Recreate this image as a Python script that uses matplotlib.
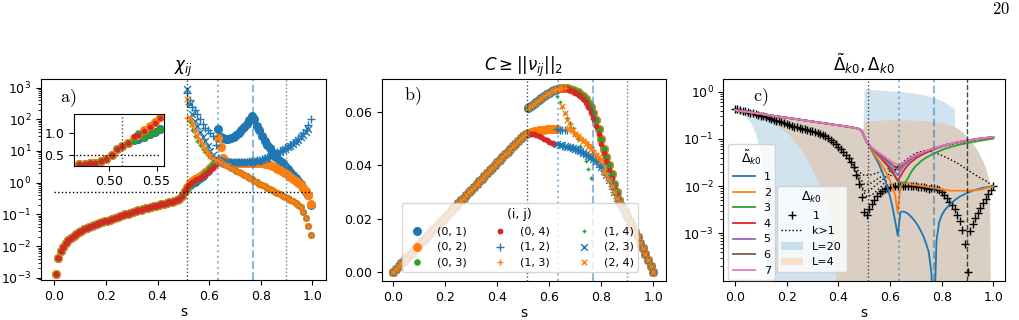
import numpy as np
import matplotlib
matplotlib.use("Agg")
import matplotlib.pyplot as plt
from matplotlib.lines import Line2D
from matplotlib.patches import Patch
from matplotlib.ticker import LogLocator, NullFormatter

# ---------------- datos panel a) chi_ij ----------------
s_a = np.linspace(0.005, 0.995, 100)
chi_low = [0.0013, 0.0041, 0.0068, 0.0095, 0.0122, 0.0152, 0.0182, 0.0213, 0.0243, 0.0274,
           0.0305, 0.0335, 0.0366, 0.0397, 0.0428, 0.046, 0.0493, 0.0527, 0.0562, 0.0598,
           0.064, 0.068, 0.073, 0.078, 0.083, 0.088, 0.094, 0.100, 0.106, 0.113,
           0.119, 0.126, 0.133, 0.140, 0.147, 0.155, 0.163, 0.171, 0.180, 0.189,
           0.198, 0.207, 0.217, 0.227, 0.238, 0.250, 0.264, 0.282, 0.310, 0.390]
# los pares con cruces/x no aparecen antes de la transicion
chi_vacio = [np.nan] * 50
# s = 0.505 ... 0.625
rise_01 = [0.55, 0.70, 0.83, 0.95, 1.06, 1.2, 1.4, 1.65, 1.95, 2.35, 2.85, 3.5, 4.4]
rise_02 = [0.56, 0.75, 0.95, 1.13, 1.30, 1.45, 1.62, 1.85, 2.1, 2.45, 2.9, 3.5, 4.3]
rise_03 = [0.55, 0.70, 0.84, 0.97, 1.10, 1.25, 1.45, 1.70, 2.0, 2.4, 2.9, 3.6, 4.5]
rise_04 = [0.56, 0.74, 0.92, 1.08, 1.2, 1.3, 1.42, 1.58, 1.8, 2.1, 2.5, 3.0, 3.8]
top_12 = [np.nan, 700, 400, 250, 190, 150, 100, 70, 55, 45, 38, 30, 15]
top_13 = [np.nan, 110, 90, 60, 40, 28, 20, 14.5, 11, 8.5, 7, 6, 5.2]
top_14 = [np.nan, 300, 80, 45, 30, 21, 15, 11.5, 9, 7.5, 6.3, 5.5, 4.9]
top_23 = [np.nan, 900, 300, 150, 90, 60, 40, 28, 20, 14, 10, 7.5, 6]
top_24 = [np.nan, 450, 110, 70, 45, 30, 21, 15, 11, 8.5, 7, 6, 5.3]
# s = 0.635 ... 0.995
tail_01 = [49, 27, 25, 24, 24, 25, 28, 32, 38, 46, 56, 72, 95, 130, 100, 60, 45, 30, 21, 15.5,
           12, 9.5, 7.6, 6.2, 5.0, 4.1, 3.3, 2.7, 2.2, 1.8, 1.45, 1.15, 0.9, 0.68, 0.5, 0.4, 0.2]
tail_02 = [26, 13, 6, 4.8, 4.4, 4.3, 4.3, 4.3, 4.3, 4.3, 4.3, 4.3, 4.3, 4.3, 4.3, 4.25, 4.2, 4.1, 4.0, 3.85,
           3.65, 3.4, 3.1, 2.8, 2.5, 2.2, 1.95, 1.7, 1.5, 1.3, 1.12, 0.98, 0.85, 0.7, 0.55, 0.42, 0.21]
tail_fall = [4.8, 4.4, 4.0, 3.6, 3.25, 2.95, 2.65, 2.4, 2.15, 1.95, 1.75, 1.58, 1.42, 1.28, 1.15, 1.04,
             0.94, 0.85, 0.77, 0.70, 0.63, 0.57, 0.52, 0.47, 0.43, 0.39, 0.35, 0.32, 0.29, 0.26,
             0.23, 0.20, 0.165, 0.12, 0.075, 0.042, 0.022]
tail_flat = [5.2, 4.8, 4.6, 4.5, 4.5, 4.5, 4.5, 4.5, 4.5, 4.5, 4.5, 4.5, 4.55, 4.6, 4.7, 4.8, 5.0, 5.2,
             5.6, 6.1, 6.6, 7.2, 7.9, 8.7, 9.6, 10.6, 11.8, 13, 14.5, 16.5, 19, 22, 27, 33, 40, 50, np.nan]
tail_12 = [6, 5.0, 4.7, 4.6, 4.6, 4.6, 4.6, 4.6, 4.6, 4.6, 4.6, 4.65, 4.7, 4.8, 4.9, 5.1, 5.3, 5.6,
           6.0, 6.5, 7.0, 7.6, 8.3, 9.1, 10, 11, 12.3, 13.8, 15.5, 17.5, 20, 24, 29, 36, 47, 65, 100]

chi = [chi_low + rise_01 + tail_01,
       chi_low + rise_02 + tail_02,
       chi_low + rise_03 + tail_fall,
       chi_low + rise_04 + tail_fall,
       chi_vacio + top_12 + tail_12,
       chi_vacio + top_13 + tail_fall,
       chi_vacio + top_14 + tail_fall,
       chi_vacio + top_23 + tail_flat,
       chi_vacio + top_24 + tail_fall]

# inset
s_in = [0.469, 0.475, 0.480, 0.486, 0.492, 0.497, 0.503, 0.509, 0.514, 0.520,
        0.526, 0.531, 0.537, 0.543, 0.548, 0.554]
in_low = [0.29, 0.29, 0.30, 0.31, 0.34, 0.39, 0.50, 0.62, 0.70, 0.77]
in_01 = in_low + [0.83, 0.85, 0.90, 0.97, 1.03, 1.10]
in_02 = in_low + [0.88, 0.96, 1.06, 1.15, 1.25, 1.36]
in_03 = in_low + [0.82, 1.01, 0.89, 0.96, 1.02, 1.08]
in_04 = in_low + [0.93, 0.95, 1.05, 1.14, 1.24, 1.34]

# ---------------- datos panel b) C ----------------
s_b = np.linspace(0.0, 1.0, 101)
b_rise = [0.0000, 0.0010, 0.0021, 0.0031, 0.0041, 0.0052, 0.0062, 0.0072, 0.0083, 0.0093,
          0.0103, 0.0114, 0.0124, 0.0134, 0.0145, 0.0155, 0.0165, 0.0176, 0.0186, 0.0196,
          0.0207, 0.0217, 0.0227, 0.0238, 0.0248, 0.0258, 0.0268, 0.0279, 0.0289, 0.0299,
          0.0309, 0.0320, 0.0330, 0.0340, 0.0350, 0.0361, 0.0371, 0.0381, 0.0391, 0.0401,
          0.0412, 0.0422, 0.0432, 0.0442, 0.0452, 0.0462, 0.0472, 0.0482, 0.0492, 0.0502, 0.0512]
# s = 0.51 ... 1.00
b_up = [0.0520, 0.0615, 0.0622, 0.0630, 0.0638, 0.0646, 0.0653, 0.0660, 0.0667, 0.0673,
        0.0679, 0.0684, 0.0688, 0.0691, 0.0692, 0.0692, 0.0690, 0.0688, 0.0685, 0.0680,
        0.0675, 0.0668, 0.0660, 0.0649, 0.0635, 0.0618, 0.0597, 0.0570, 0.0538, 0.0500,
        0.0462, 0.0432, 0.0400, 0.0366, 0.0331, 0.0298, 0.0270, 0.0247, 0.0227, 0.0208,
        0.0189, 0.0170, 0.0150, 0.0130, 0.0109, 0.0088, 0.0066, 0.0044, 0.0022, 0.0]
b_red = [0.0518, 0.0519, 0.0520, 0.0518, 0.0514, 0.0510, 0.0505, 0.0500, 0.0494, 0.0488,
         0.0483, 0.0481, 0.0686, 0.0688, 0.0689, 0.0688, 0.0686, 0.0683, 0.0679, 0.0674,
         0.0668, 0.0660, 0.0650, 0.0637, 0.0620, 0.0600, 0.0577, 0.0550, 0.0518, 0.0482,
         0.0447, 0.0415, 0.0383, 0.0351, 0.0320, 0.0290, 0.0264, 0.0242, 0.0223, 0.0205,
         0.0189, 0.0170, 0.0150, 0.0130, 0.0109, 0.0088, 0.0066, 0.0044, 0.0022, 0.0]
b_mid = [0.0518, 0.0522, 0.0525, 0.0528, 0.0530, 0.0532, 0.0534, 0.0535, 0.0536, 0.0537,
         0.0538, 0.0538, 0.0538]
b_low = [0.0518, 0.0516, 0.0513, 0.0510, 0.0506, 0.0502, 0.0498, 0.0494, 0.0490, 0.0487,
         0.0484, 0.0482, 0.0480, 0.0478, 0.0476, 0.0474, 0.0471, 0.0468, 0.0465, 0.0461,
         0.0457, 0.0453, 0.0448, 0.0443, 0.0437, 0.0431, 0.0424, 0.0416, 0.0406, 0.0394,
         0.0380, 0.0364, 0.0345, 0.0323, 0.0300, 0.0277, 0.0257, 0.0238, 0.0222, 0.0206,
         0.0189, 0.0170, 0.0150, 0.0130, 0.0109, 0.0088, 0.0066, 0.0044, 0.0022, 0.0]
b_plus12 = [0.0536, 0.0535, 0.0535, 0.0534, 0.0532]            # s = 0.63 ... 0.67
b_midx = [0.0540, 0.0535, 0.0527, 0.0518, 0.0510, 0.0502, 0.0495, 0.0489, 0.0480,
          0.0470, 0.0458, 0.0444, 0.0428, 0.0410, 0.0390, 0.0368, 0.0345, 0.0322]  # 0.67 ... 0.84
b_fast = [0.0660, 0.0640, 0.0620, 0.0598, 0.0577, 0.0558, 0.0540, 0.0520, 0.0498,
          0.0474, 0.0447, 0.0418, 0.0385, 0.0351]                                  # 0.63 ... 0.76
b_ox = [0.0625, 0.0596, 0.0570, 0.0550, 0.0535, 0.0520, 0.0510, 0.0500, 0.0490,
        0.0480, 0.0470, 0.0460, 0.0450, 0.0440, 0.0430, 0.0415]                    # 0.65 ... 0.80

cnorm = [b_rise + b_up,
         b_rise + b_mid + b_up[13:],
         b_rise + b_up,
         b_rise + b_red,
         b_rise + b_up[:12] + b_plus12 + b_low[17:],
         b_rise + b_up[:16] + b_midx + b_low[34:],
         b_rise + b_up[:12] + b_fast + b_low[26:],
         b_rise + b_up[:12] + b_low[12:],
         b_rise + b_up[:14] + b_ox + b_low[30:]]

# ---------------- datos panel c) gaps ----------------
s_c = np.linspace(0.0, 1.0, 101)
gap_low = [0.410, 0.403, 0.395, 0.388, 0.381, 0.374, 0.367, 0.360, 0.353, 0.347,
           0.340, 0.334, 0.328, 0.322, 0.316, 0.310, 0.304, 0.298, 0.293, 0.287,
           0.282, 0.277, 0.272, 0.267, 0.262, 0.257, 0.252, 0.248, 0.243, 0.239,
           0.234, 0.230, 0.226, 0.222, 0.218, 0.214, 0.210, 0.206, 0.202, 0.198,
           0.195, 0.191, 0.188, 0.184, 0.181, 0.177, 0.173, 0.169, 0.163, 0.150,
           0.115, 0.085, 0.074]
# s = 0.53 ... 1.00
gap_7 = [0.066, 0.060, 0.055, 0.050, 0.046, 0.042, 0.038, 0.035, 0.032, 0.030,
         0.028, 0.029, 0.031, 0.034, 0.037, 0.040, 0.043, 0.046, 0.0485, 0.051,
         0.0535, 0.056, 0.0585, 0.061, 0.0635, 0.066, 0.0685, 0.071, 0.0735, 0.076,
         0.078, 0.080, 0.0825, 0.085, 0.087, 0.089, 0.091, 0.093, 0.095, 0.097,
         0.099, 0.101, 0.1025, 0.104, 0.1055, 0.107, 0.1085, 0.110]
gap_6 = [0.065, 0.059, 0.053, 0.048, 0.043, 0.039, 0.035, 0.031, 0.028, 0.025,
         0.022, 0.025, 0.029, 0.033, 0.036, 0.039, 0.042, 0.045, 0.0485, 0.051,
         0.0535, 0.056, 0.0585, 0.061, 0.0635, 0.066, 0.0685, 0.071, 0.0735, 0.076,
         0.078, 0.080, 0.0825, 0.085, 0.087, 0.089, 0.091, 0.093, 0.095, 0.097,
         0.099, 0.101, 0.1025, 0.104, 0.1055, 0.107, 0.1085, 0.110]
gap_5 = [0.064, 0.057, 0.051, 0.045, 0.040, 0.035, 0.031, 0.027, 0.023, 0.020,
         0.017, 0.021, 0.025, 0.029, 0.033, 0.036, 0.040, 0.043, 0.046, 0.049,
         0.052, 0.055, 0.058, 0.0605, 0.063, 0.0655, 0.068, 0.0705, 0.073, 0.0755,
         0.078, 0.080, 0.0825, 0.085, 0.087, 0.089, 0.091, 0.093, 0.095, 0.097,
         0.099, 0.101, 0.1025, 0.104, 0.1055, 0.107, 0.1085, 0.110]
gap_4 = [0.063, 0.056, 0.049, 0.043, 0.037, 0.032, 0.028, 0.024, 0.020, 0.016,
         0.013, 0.016, 0.020, 0.024, 0.028, 0.032, 0.035, 0.039, 0.042, 0.045,
         0.048, 0.051, 0.054, 0.057, 0.060, 0.063, 0.066, 0.069, 0.072, 0.075,
         0.077, 0.079, 0.082, 0.084, 0.086, 0.088, 0.090, 0.092, 0.094, 0.096,
         0.098, 0.100, 0.102, 0.103, 0.105, 0.106, 0.108, 0.109]
gap_3 = [0.062, 0.055, 0.048, 0.042, 0.036, 0.031, 0.027, 0.023, 0.019, 0.016,
         0.013, 0.012, 0.0118, 0.012, 0.015, 0.019, 0.023, 0.027, 0.030, 0.034,
         0.037, 0.040, 0.043, 0.046, 0.049, 0.052, 0.055, 0.058, 0.061, 0.064,
         0.066, 0.069, 0.071, 0.074, 0.076, 0.078, 0.080, 0.082, 0.084, 0.086,
         0.088, 0.090, 0.092, 0.094, 0.096, 0.098, 0.100, 0.102]
gap_2 = [0.058, 0.048, 0.040, 0.033, 0.027, 0.022, 0.017, 0.013, 0.0095, 0.0065,
         0.0027, 0.0095, 0.0115, 0.012, 0.0115, 0.011, 0.0107, 0.0105, 0.0103, 0.0101,
         0.0099, 0.0097, 0.0095, 0.0093, 0.0091, 0.0089, 0.0087, 0.0085, 0.0083, 0.0082,
         0.0081, 0.0080, 0.0080, 0.0080, 0.0080, 0.0080, 0.0080, 0.0080, 0.0080, 0.0081,
         0.0082, 0.0083, 0.0085, 0.0087, 0.0090, 0.0093, 0.0096, 0.0099]
gap_1 = [0.055, 0.044, 0.035, 0.027, 0.020, 0.014, 0.0095, 0.006, 0.0035, 0.0018,
         0.0009, 0.0028, 0.0029, 0.0028, 0.0026, 0.0023, 0.0020, 0.0017, 0.0014, 0.0011,
         0.00085, 0.0006, 0.0004, 0.00015, 0.00001, 0.0007, 0.0017, 0.0024, 0.0030, 0.0035,
         0.0040, 0.0045, 0.0050, 0.0055, 0.0060, 0.0064, 0.0068, 0.0072, 0.0076, 0.0080,
         0.0083, 0.0086, 0.0089, 0.0092, 0.0094, 0.0096, 0.0098, 0.0099]
gaps_tilde = [gap_1, gap_2, gap_3, gap_4, gap_5, gap_6, gap_7]

delta_1 = [0.44, 0.425, 0.41, 0.397, 0.385, 0.372, 0.36, 0.347, 0.335, 0.322,
           0.31, 0.30, 0.29, 0.28, 0.27, 0.257, 0.245, 0.235, 0.225, 0.216,
           0.208, 0.199, 0.19, 0.182, 0.175, 0.170, 0.165, 0.160, 0.155, 0.150,
           0.145, 0.139, 0.133, 0.127, 0.12, 0.113, 0.105, 0.097, 0.088, 0.079,
           0.069, 0.061, 0.053, 0.046, 0.039, 0.032, 0.025, 0.017, 0.011, 0.006,
           0.0028, 0.0024, 0.0032, 0.0042, 0.0052, 0.0062, 0.0071, 0.0079, 0.0085, 0.0090,
           0.0094, 0.0097, 0.0099, 0.0100, 0.0101, 0.0102, 0.0102, 0.0102, 0.0101, 0.0100,
           0.0099, 0.0098, 0.0096, 0.0094, 0.0091, 0.0088, 0.0093, 0.0090, 0.0086, 0.0081,
           0.0075, 0.0064, 0.0055, 0.0047, 0.0039, 0.0033, 0.0025, 0.0018, 0.0012, 0.0006,
           0.00015, 0.0011, 0.0016, 0.0021, 0.0027, 0.0034, 0.0043, 0.0054, 0.0067, 0.0082, 0.0099]

s_k2 = [0.44, 0.46, 0.48, 0.50, 0.52, 0.55, 0.58, 0.61, 0.634, 0.66, 0.70, 0.75, 0.80, 0.85, 0.90, 0.95, 1.00]
d_k2 = [0.039, 0.028, 0.020, 0.017, 0.017, 0.019, 0.022, 0.025, 0.027, 0.033, 0.044, 0.057, 0.069, 0.079, 0.089, 0.099, 0.109]
s_k3 = [0.44, 0.46, 0.48, 0.50, 0.52, 0.55, 0.58, 0.61, 0.634, 0.66, 0.70, 0.74, 0.78, 0.82, 0.86, 0.90, 0.94, 0.97, 1.00]
d_k3 = [0.039, 0.027, 0.016, 0.011, 0.011, 0.014, 0.018, 0.023, 0.027, 0.036, 0.050, 0.058, 0.050, 0.040, 0.031, 0.022, 0.016, 0.013, 0.0099]
s_k4 = [0.46, 0.48, 0.50, 0.52, 0.55, 0.58, 0.61, 0.634]
d_k4 = [0.025, 0.013, 0.008, 0.008, 0.011, 0.015, 0.021, 0.027]
s_k5 = [0.47, 0.49, 0.51, 0.53, 0.56, 0.60, 0.634]
d_k5 = [0.020, 0.009, 0.006, 0.0065, 0.009, 0.016, 0.027]

s_fill = [0.00, 0.02, 0.04, 0.06, 0.08, 0.09, 0.10, 0.11, 0.12, 0.13, 0.16, 0.20, 0.24, 0.28, 0.30, 0.32,
          0.34, 0.36, 0.37, 0.38, 0.39, 0.40, 0.44, 0.48, 0.495, 0.50, 0.52, 0.55, 0.60, 0.65, 0.70, 0.75,
          0.80, 0.82, 0.84, 0.849, 0.85, 0.86, 0.88, 0.90, 0.92, 0.94, 0.96, 0.97, 0.98, 0.985, 0.99, 1.00]
up_L4 = [0.41, 0.395, 0.381, 0.367, 0.353, 0.347, 0.34, 0.334, 0.328, 0.322, 0.304, 0.282, 0.262, 0.243, 0.234, 0.226,
         0.218, 0.21, 0.206, 0.202, 0.198, 0.195, 0.181, 0.163, 0.16, 0.23, 0.24, 0.25, 0.255, 0.255, 0.25, 0.24,
         0.22, 0.205, 0.19, 0.185, 0.18, 0.17, 0.14, 0.11, 0.08, 0.055, 0.033, 0.024, 0.015, 0.011, 1e-6, 1e-6]
lo_L4 = [0.37, 0.35, 0.33, 0.31, 0.29, 0.28, 0.27, 0.258, 0.245, 0.233, 0.195, 0.135, 0.078, 0.036, 0.022, 0.013,
         0.0075, 0.0035, 0.0018, 0.0006, 0.0001, 1e-6, 1e-6, 1e-6, 1e-6, 1e-6, 1e-6, 1e-6, 1e-6, 1e-6, 1e-6, 1e-6,
         1e-6, 1e-6, 1e-6, 1e-6, 1e-6, 1e-6, 1e-6, 1e-6, 1e-6, 1e-6, 1e-6, 1e-6, 1e-6, 1e-6, 1e-6, 1e-6]
up_L20 = [0.41, 0.395, 0.381, 0.367, 0.353, 0.347, 0.34, 0.334, 0.328, 0.322, 0.304, 0.282, 0.262, 0.243, 0.234, 0.226,
          0.218, 0.21, 0.206, 0.202, 0.198, 0.195, 0.181, 0.163, 0.16, 1.15, 1.13, 1.10, 1.05, 1.0, 0.93, 0.82,
          0.65, 0.56, 0.47, 0.43, 0.18, 0.17, 0.14, 0.11, 0.08, 0.055, 0.033, 0.024, 0.015, 0.011, 1e-6, 1e-6]
lo_L20 = [0.36, 0.34, 0.30, 0.23, 0.13, 0.08, 0.04, 0.012, 0.001, 1e-6, 1e-6, 1e-6, 1e-6, 1e-6, 1e-6, 1e-6,
          1e-6, 1e-6, 1e-6, 1e-6, 1e-6, 1e-6, 1e-6, 1e-6, 1e-6, 1e-6, 1e-6, 1e-6, 1e-6, 1e-6, 1e-6, 1e-6,
          1e-6, 1e-6, 1e-6, 1e-6, 1e-6, 1e-6, 1e-6, 1e-6, 1e-6, 1e-6, 1e-6, 1e-6, 1e-6, 1e-6, 1e-6, 1e-6]

pares = ["(0, 1)", "(0, 2)", "(0, 3)", "(0, 4)", "(1, 2)", "(1, 3)", "(1, 4)", "(2, 3)", "(2, 4)"]
colores = ["C0", "C1", "C2", "C3", "C0", "C1", "C2", "C0", "C1"]
marcadores = ["o", "o", "o", "o", "+", "+", "+", "x", "x"]
tamanos = [30, 30, 14, 10, 30, 22, 10, 24, 16]

plt.rcParams["xtick.labelsize"] = 9
plt.rcParams["ytick.labelsize"] = 9
plt.rcParams["axes.labelsize"] = 10


def lineas_verticales(ax, panel_c=False):
    ax.axvline(0.514, color="k", ls=":", lw=1, alpha=0.7)
    ax.axvline(0.634, color="C0", ls=":", lw=1.5, alpha=0.5)
    ax.axvline(0.769, color="C0", ls="--", lw=1.5, alpha=0.5)
    if panel_c:
        ax.axvline(0.898, color="k", ls="--", lw=1, alpha=0.7)
    else:
        ax.axvline(0.898, color="gray", ls=":", lw=1)


def etiqueta(ax, texto, x, y):
    ax.text(x, y, r"$\mathrm{" + texto + "}$", transform=ax.transAxes, fontsize=13,
            math_fontfamily="cm", va="center")


fig = plt.figure(figsize=(10.2, 3.2), dpi=100)
fig.text(0.99, 0.955, r"$\mathrm{20}$", fontsize=12, math_fontfamily="cm", ha="right")

# ---------- a) ----------
ax = fig.add_axes([0.0402, 0.125, 0.2794, 0.628])
for k in range(9):
    ax.scatter(s_a, chi[k], s=tamanos[k], marker=marcadores[k], color=colores[k],
               linewidths=1, label=pares[k])
ax.hlines(0.5, 0.0, 1.0, colors="k", linestyles=":", lw=1)
lineas_verticales(ax)
ax.set_yscale("log")
ax.set_xlim(-0.0515, 1.053)
ax.set_ylim(10 ** -3.07, 10 ** 3.27)
ax.set_yticks([1e-3, 1e-2, 1e-1, 1e0, 1e1, 1e2, 1e3])
ax.yaxis.set_minor_locator(LogLocator(base=10, subs=np.arange(2, 10) * 1.0, numticks=20))
ax.yaxis.set_minor_formatter(NullFormatter())
ax.set_xlabel("s", labelpad=2)
ax.set_title(r"$\chi_{ij}$", fontsize=12)
etiqueta(ax, "a)", 0.065, 0.905)

axin = fig.add_axes([0.0728, 0.482, 0.0882, 0.1606])
for serie, k in [(in_01, 0), (in_02, 1), (in_03, 2), (in_04, 3)]:
    axin.scatter(s_in, serie, s=tamanos[k], marker="o", color=colores[k])
axin.hlines(0.5, 0.466, 0.554, colors="k", linestyles=":", lw=1)
axin.axvline(0.514, color="k", ls=":", lw=1, alpha=0.7)
axin.set_xlim(0.464, 0.558)
axin.set_ylim(0.24, 1.43)
axin.set_xticks([0.50, 0.55])
axin.set_yticks([0.5, 1.0])

# ---------- b) ----------
ax = fig.add_axes([0.3742, 0.122, 0.2784, 0.631])
handles = []
for k in range(9):
    h = ax.scatter(s_b, cnorm[k], s=tamanos[k], marker=marcadores[k], color=colores[k],
                   linewidths=1, label=pares[k])
    handles.append(h)
lineas_verticales(ax)
ax.set_xlim(-0.045, 1.048)
ax.set_ylim(-0.0035, 0.0725)
ax.set_yticks([0.0, 0.02, 0.04, 0.06])
ax.set_xlabel("s", labelpad=2)
ax.set_title(r"$C \geq ||\nu_{ij}||_2$", fontsize=12)
etiqueta(ax, "b)", 0.08, 0.915)
ax.legend(handles=handles, title="(i, j)", ncol=3, loc="lower left",
          bbox_to_anchor=(0.07, 0.046), fontsize=8, title_fontsize=9,
          scatterpoints=1, borderaxespad=0)

# ---------- c) ----------
ax = fig.add_axes([0.7091, 0.122, 0.2762, 0.631])
ax.fill_between(s_fill, lo_L20, up_L20, color="C0", alpha=0.2, lw=0)
ax.fill_between(s_fill, lo_L4, up_L4, color="C1", alpha=0.2, lw=0)
ax.plot(s_c, delta_1, "k+", ms=6, mew=1)
for sx, dy in [(s_k2, d_k2), (s_k3, d_k3), (s_k4, d_k4), (s_k5, d_k5)]:
    ax.plot(sx, dy, "k:", lw=1)
lineas = []
for k in range(7):
    l, = ax.plot(s_c, gap_low + gaps_tilde[k], color="C%d" % k, lw=1.3, label=str(k + 1))
    lineas.append(l)
lineas_verticales(ax, panel_c=True)
ax.set_yscale("log")
ax.set_xlim(-0.045, 1.045)
ax.set_ylim(10 ** -4.01, 10 ** 0.27)
ax.set_yticks([1e-3, 1e-2, 1e-1, 1e0])
ax.yaxis.set_minor_locator(LogLocator(base=10, subs=np.arange(2, 10) * 1.0, numticks=20))
ax.yaxis.set_minor_formatter(NullFormatter())
ax.set_xlabel("s", labelpad=2)
ax.set_title(r"$\tilde{\Delta}_{k0}, \Delta_{k0}$", fontsize=12)
etiqueta(ax, "c)", 0.105, 0.91)
leg1 = ax.legend(handles=lineas, title=r"$\tilde{\Delta}_{k0}$", loc="lower left",
                 bbox_to_anchor=(0.017, 0.005), borderaxespad=0, fontsize=8, title_fontsize=9)
ax.add_artist(leg1)
extra = [Line2D([], [], color="k", marker="+", ls="none", ms=6),
         Line2D([], [], color="k", ls=":", lw=1),
         Patch(facecolor="C0", alpha=0.2),
         Patch(facecolor="C1", alpha=0.2)]
ax.legend(handles=extra, labels=["1", "k>1", "L=20", "L=4"], title=r"$\Delta_{k0}$",
          loc="lower left", bbox_to_anchor=(0.19, 0.045), borderaxespad=0,
          fontsize=8, title_fontsize=9)

fig.savefig("out.png", dpi=100)
